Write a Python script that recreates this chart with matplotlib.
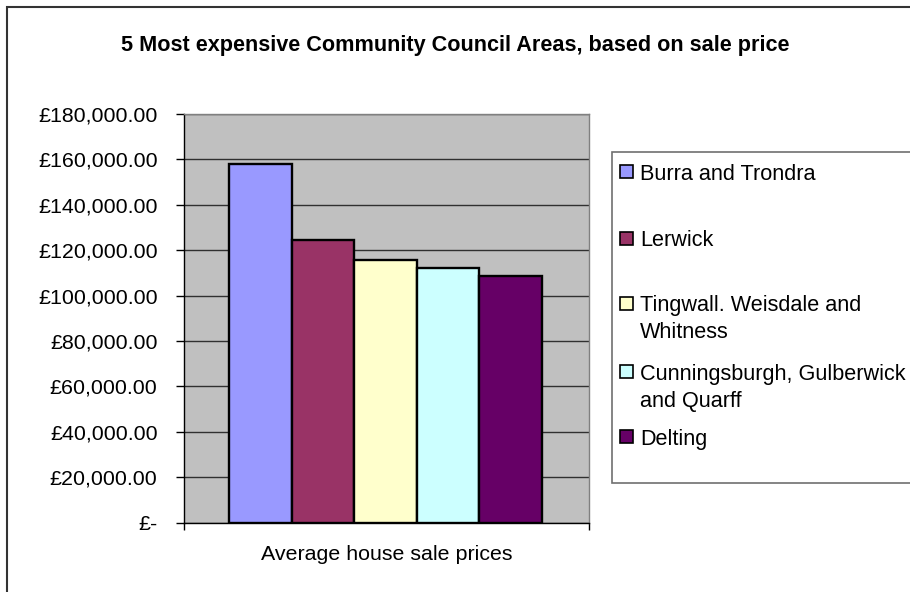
import matplotlib
matplotlib.use('Agg')
import matplotlib.pyplot as plt
from matplotlib.patches import Rectangle
from matplotlib.ticker import FuncFormatter

plt.rcParams['font.family'] = ['Liberation Sans', 'DejaVu Sans']

# Average house sale price per Community Council Area
areas = ['Burra and Trondra', 'Lerwick', 'Tingwall. Weisdale and\nWhitness',
         'Cunningsburgh, Gulberwick\nand Quarff', 'Delting']
prices = [158000, 124500, 115500, 112000, 108500]
colors = ['#9999FF', '#993366', '#FFFFCC', '#CCFFFF', '#660066']
category = 'Average house sale prices'
title = '5 Most expensive Community Council Areas, based on sale price'

W, H = 910, 592
fig = plt.figure(figsize=(W / 100, H / 100), dpi=100)
fig.patch.set_facecolor('white')

# chart frame (runs off the right and bottom edges)
fig.patches.append(Rectangle((7 / W, -0.1), 1.2, (H - 7) / H + 0.1, transform=fig.transFigure,
                             fill=False, ec='#333333', lw=1.5))

ax = fig.add_axes([184 / W, 69.5 / H, 405 / W, 408.5 / H])
ax.set_facecolor('#C0C0C0')

bw = 0.1543
for i, (p, c) in enumerate(zip(prices, colors)):
    ax.bar((i - 2) * bw - 0.002, p, width=bw, color=c, edgecolor='black', linewidth=1.7,
           label=areas[i], zorder=3)

ax.set_xlim(-0.5, 0.5)
ax.set_ylim(0, 180000)
ax.set_yticks(range(0, 180001, 20000))
ax.yaxis.set_major_formatter(FuncFormatter(lambda v, p: '£-' if v == 0 else '£{:,.2f}'.format(v)))
ax.grid(axis='y', color='#303030', linewidth=1, zorder=1)
ax.tick_params(axis='y', length=5.5, width=1, pad=13.5, labelsize=15.4, colors='black')

ax.set_xticks([-0.5, 0.5], labels=['', ''])
ax.tick_params(axis='x', which='major', length=5, width=1, direction='out')
ax.set_xticks([0], labels=[category], minor=True)
ax.tick_params(axis='x', which='minor', length=0, pad=16.5, labelsize=15.4)

for s in ['top', 'right']:
    ax.spines[s].set_color('#808080')
    ax.spines[s].set_linewidth(1)
for s in ['left', 'bottom']:
    ax.spines[s].set_color('black')
    ax.spines[s].set_linewidth(1)

fig.text(455 / W, 1 - 46 / H, title, ha='center', va='center', fontsize=15.6, fontweight='bold')

# legend box drawn in pixel positions, marker beside the first line of each entry
fig.patches.append(Rectangle((612 / W, 109 / H), 0.5, (439.7 - 109) / H, transform=fig.transFigure,
                             fill=True, fc='white', ec='#707070', lw=1.2))
first_lines = [171.7, 238.3, 303.3, 371.7, 436.7]
for y0, lab, c in zip(first_lines, areas, colors):
    fig.patches.append(Rectangle((619.5 / W, 1 - (y0 + 6.5) / H), 13 / W, 13 / H,
                                 transform=fig.transFigure, fc=c, ec='black', lw=1.2))
    for k, line in enumerate(lab.split('\n')):
        fig.text(640 / W, 1 - (y0 + 27 * k) / H, line, ha='left', va='center_baseline',
                 fontsize=15.6)

fig.savefig('out.png', dpi=100)
